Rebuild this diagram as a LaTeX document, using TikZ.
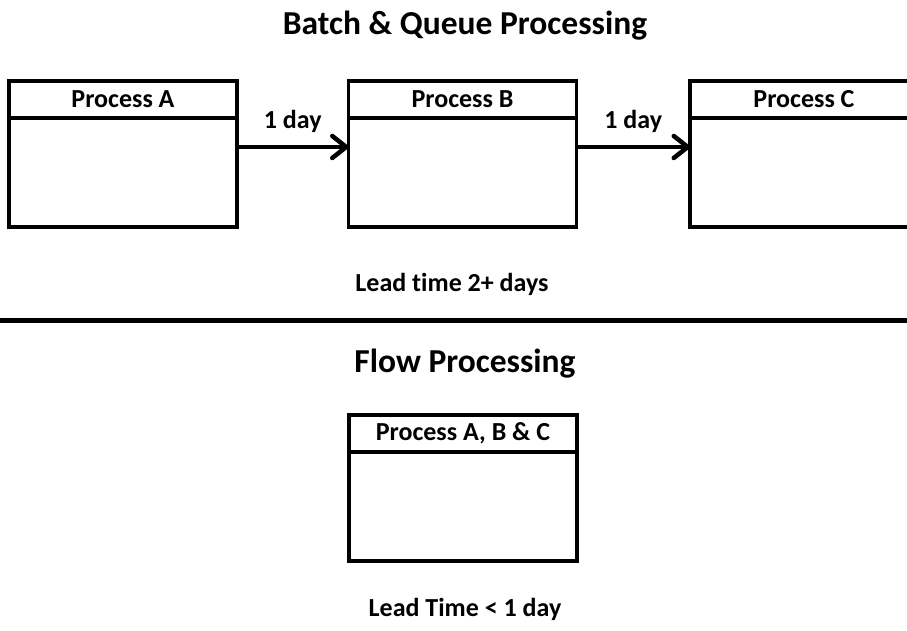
\documentclass[tikz,border=0pt]{standalone}
\usepackage{fontspec}
\setmainfont{Carlito}[Ligatures=NoCommon]
\usetikzlibrary{positioning,arrows.meta}

\tikzset{
  head/.style={draw, line width=3.5pt, minimum width=228pt, minimum height=37pt,
    inner sep=0pt, outer sep=0pt, font=\bfseries\fontsize{26}{30}\selectfont},
  body/.style={draw, line width=3.5pt, minimum width=228pt, minimum height=109pt,
    inner sep=0pt, outer sep=0pt},
  label/.style={anchor=base, inner sep=0pt, font=\bfseries\fontsize{26}{30}\selectfont},
  heading/.style={anchor=base, inner sep=0pt, font=\bfseries\fontsize{33.5}{38}\selectfont},
  wait/.style={line width=4.5pt, -{Straight Barb[length=14pt, width=22pt, round]}}
}

\begin{document}
\begin{tikzpicture}[x=1pt, y=1pt]
  \useasboundingbox (0,0) rectangle (907,631);

  % batch and queue
  \node[heading] (batch title) at (465,596) {Batch \& Queue Processing};
  \node[head] (pa) at (123,531.5) {Process A};
  \node[body, below=0pt of pa] (pa body) {};
  \node[head] (pb) at (462.5,531.5) {Process B};
  \node[body, below=0pt of pb] (pb body) {};
  \node[head] (pc) at (804,531.5) {Process C};
  \node[body, below=0pt of pc] (pc body) {};
  \draw[wait] (pa body.east |- 0,484) -- (pb body.west |- 0,484)
    node[label, midway, above=12pt] (wait ab) {1 day};
  \draw[wait] (pb body.east |- 0,484) -- (pc body.west |- 0,484)
    node[label, midway, above=12pt] (wait bc) {1 day};
  \node[label] (batch lead) at (452,339) {Lead time 2+ days};

  % divider
  \coordinate (div left) at (0,310.5);
  \coordinate (div right) at (907,310.5);
  \draw[line width=5pt] (div left) -- (div right);

  % flow
  \node[heading] (flow title) at (465,258) {Flow Processing};
  \node[head] (pabc) at (463,197.5) {Process A, B \& C};
  \node[body, below=0pt of pabc] (pabc body) {};
  \node[label] (flow lead) at (465,14) {Lead Time < 1 day};
\end{tikzpicture}
\end{document}
